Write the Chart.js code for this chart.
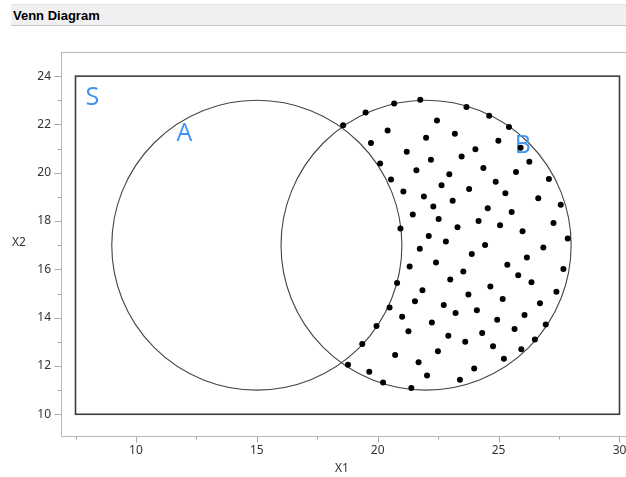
<!DOCTYPE html>
<html>
<head>
<meta charset="utf-8">
<script src="https://cdn.jsdelivr.net/npm/chart.js@4/dist/chart.umd.min.js"></script>
<style>
  html, body { margin: 0; padding: 0; background: #fff; overflow: hidden; width: 626px; height: 477px; }
  #wrap { position: relative; width: 626px; height: 477px; overflow: hidden; }
  #chart { position: absolute; left: 0; top: 0; }
  #title {
    position: absolute; left: 11px; top: 4px; width: 615px; height: 22px;
    background: #f0f0f0; border-top: 1px solid #e2e2e2; border-bottom: 1px solid #c6c6c6;
    font: bold 13px "Liberation Sans", Arial, sans-serif; color: #000;
    line-height: 21px; padding-left: 2px; box-sizing: border-box;
  }
</style>
</head>
<body>
<div id="wrap">
  <canvas id="chart" width="637" height="477"></canvas>
  <div id="title">Venn Diagram</div>
</div>
<script>
// Points shaded in set B but outside set A
const dotX = [
  18.57, 19.50, 20.68, 21.76, 23.67, 22.45, 20.41, 19.72, 22.00, 23.19,
  24.04, 21.20, 23.47, 22.20, 20.10, 21.60, 22.96, 20.55, 22.64, 23.78,
  21.06, 21.91, 23.10, 24.61, 25.43, 24.99, 25.91, 26.27, 24.37, 25.72,
  27.08, 24.88, 25.28, 26.64, 22.30, 21.45, 22.52, 24.17, 20.94, 23.30,
  22.11, 22.82, 21.74, 23.89, 21.32, 22.41, 23.54, 23.00, 20.80, 21.85,
  23.75, 21.54, 22.73, 27.57, 24.55, 25.54, 25.06, 27.27, 25.99, 27.86,
  24.44, 26.85, 26.17, 25.36, 27.68, 25.81, 26.36, 24.66, 27.39, 25.17,
  26.71, 20.49, 21.01, 23.22, 24.10, 22.24, 19.95, 21.27, 22.92, 23.62,
  19.36, 22.49, 20.72, 21.69, 18.77, 23.99, 19.65, 22.04, 20.22, 23.40,
  21.39, 24.94, 26.07, 26.95, 24.32, 25.66, 24.77, 26.50, 25.94, 25.22
];
const dotY = [
  21.97, 22.49, 22.87, 23.02, 22.72, 22.16, 21.75, 21.23, 21.45, 21.62,
  20.97, 20.87, 20.67, 20.54, 20.38, 20.10, 19.94, 19.72, 19.48, 19.33,
  19.22, 19.02, 18.84, 22.36, 21.89, 21.33, 21.04, 20.46, 20.20, 20.03,
  19.74, 19.63, 19.15, 18.94, 18.60, 18.27, 18.09, 18.00, 17.69, 17.74,
  17.38, 17.15, 16.85, 16.64, 16.12, 16.28, 15.91, 15.58, 15.44, 15.13,
  14.96, 14.68, 14.52, 18.68, 18.53, 18.38, 17.83, 17.92, 17.58, 17.28,
  17.01, 16.90, 16.49, 16.19, 16.01, 15.76, 15.47, 15.29, 15.07, 14.77,
  14.60, 14.42, 14.04, 14.19, 14.31, 13.80, 13.65, 13.44, 13.25, 13.00,
  12.91, 12.61, 12.45, 12.15, 12.05, 11.89, 11.76, 11.61, 11.32, 11.43,
  11.09, 13.91, 14.11, 13.72, 13.37, 13.53, 12.82, 13.10, 12.69, 12.30
];

// Sets A and B as circles: centre and radius in data units
const setNames = ['A', 'B'];
const setCenterX = [15, 22];
const setCenterY = [17, 17];
const setRadius = [6, 6];

// Universe S as a rectangle [min, max] on each axis
const universeX = [7.5, 30];
const universeY = [10, 24];

// Region letters and where they sit
const regionNames = ['S', 'A', 'B'];
const regionX = [8.2, 12.0, 26.0];
const regionY = [23.1, 21.6, 21.1];

// Axis ticks
const xTickValues = [7.5, 10, 12.5, 15, 17.5, 20, 22.5, 25, 27.5, 30];
const xTickLabels = ['', '10', '', '15', '', '20', '', '25', '', '30'];
const yTickValues = [10, 11, 12, 13, 14, 15, 16, 17, 18, 19, 20, 21, 22, 23, 24];
const yTickLabels = ['10', '', '12', '', '14', '', '16', '', '18', '', '20', '', '22', '', '24'];

const tickFont = { family: '"Noto Sans", "Open Sans", sans-serif', size: 12 };
const tickColor = '#333333';

const dots = dotX.map((x, i) => ({ x: x, y: dotY[i] }));

const vennShapes = {
  id: 'vennShapes',
  beforeDatasetsDraw(chart) {
    const { ctx, chartArea, scales: { x, y } } = chart;
    ctx.save();
    ctx.beginPath();
    ctx.rect(chartArea.left, chartArea.top, chartArea.right - chartArea.left, chartArea.bottom - chartArea.top);
    ctx.clip();

    // universe rectangle
    const rx0 = x.getPixelForValue(universeX[0]);
    const rx1 = x.getPixelForValue(universeX[1]);
    const ry0 = y.getPixelForValue(universeY[1]);
    const ry1 = y.getPixelForValue(universeY[0]);
    ctx.strokeStyle = '#3c3c3c';
    ctx.lineWidth = 1.6;
    ctx.strokeRect(rx0, ry0, rx1 - rx0, ry1 - ry0);

    // set circles
    ctx.strokeStyle = '#444444';
    ctx.lineWidth = 1.1;
    setNames.forEach((name, i) => {
      const cx = x.getPixelForValue(setCenterX[i]);
      const cy = y.getPixelForValue(setCenterY[i]);
      const rxp = Math.abs(x.getPixelForValue(setCenterX[i] + setRadius[i]) - cx);
      const ryp = Math.abs(y.getPixelForValue(setCenterY[i] + setRadius[i]) - cy);
      ctx.beginPath();
      ctx.ellipse(cx, cy, rxp, ryp, 0, 0, Math.PI * 2);
      ctx.stroke();
    });

    // region letters
    ctx.fillStyle = '#3f93f0';
    ctx.font = '25px "Open Sans", "Noto Sans", sans-serif';
    ctx.textAlign = 'center';
    ctx.textBaseline = 'middle';
    regionNames.forEach((t, i) => {
      ctx.fillText(t, x.getPixelForValue(regionX[i]), y.getPixelForValue(regionY[i]));
    });
    ctx.restore();
  },
  afterDraw(chart) {
    const { ctx, chartArea, scales: { x, y } } = chart;
    ctx.save();
    // frame of the plot
    ctx.strokeStyle = '#b8b8b8';
    ctx.lineWidth = 1;
    const l = Math.round(chartArea.left) + 0.5;
    const t = Math.round(chartArea.top) + 0.5;
    const b = Math.round(chartArea.bottom) + 0.5;
    const r = Math.round(chartArea.right) - 0.5;
    ctx.strokeRect(l, t, r - l, b - t);

    // tick marks, longer for labelled ticks
    ctx.strokeStyle = '#a8a8a8';
    ctx.beginPath();
    x.ticks.forEach((tk) => {
      const px = Math.round(x.getPixelForValue(tk.value)) + 0.5;
      const len = tk.label ? 6 : 3;
      ctx.moveTo(px, b);
      ctx.lineTo(px, b + len);
    });
    y.ticks.forEach((tk) => {
      const py = Math.round(y.getPixelForValue(tk.value)) + 0.5;
      const len = tk.label ? 7 : 4;
      ctx.moveTo(l, py);
      ctx.lineTo(l - len, py);
    });
    ctx.stroke();

    // axis titles
    ctx.fillStyle = tickColor;
    ctx.font = '12px "Noto Sans", "Open Sans", sans-serif';
    ctx.textAlign = 'center';
    ctx.textBaseline = 'middle';
    ctx.fillText('X1', 342, 469);
    ctx.fillText('X2', 19, 243);
    ctx.restore();
  }
};

new Chart(document.getElementById('chart'), {
  type: 'scatter',
  data: {
    datasets: [{
      label: 'B only',
      data: dots,
      pointRadius: 3,
      pointHoverRadius: 3,
      backgroundColor: '#000',
      borderWidth: 0
    }]
  },
  options: {
    responsive: false,
    animation: false,
    devicePixelRatio: 1,
    layout: { padding: { top: 52, left: 0, right: 0, bottom: 0 } },
    plugins: { legend: { display: false }, tooltip: { enabled: false }, title: { display: false } },
    scales: {
      x: {
        type: 'linear',
        min: 6.9,
        max: 30.6,
        afterFit(scale) { scale.height = 41; },
        afterBuildTicks(scale) { scale.ticks = xTickValues.map(v => ({ value: v })); },
        ticks: {
          callback(value) { const i = xTickValues.indexOf(value); return i >= 0 ? xTickLabels[i] : ''; },
          font: tickFont, color: tickColor, padding: 7, maxRotation: 0, autoSkip: false
        },
        grid: { drawOnChartArea: false, drawTicks: false },
        border: { display: false }
      },
      y: {
        type: 'linear',
        min: 9.1,
        max: 25,
        afterFit(scale) { scale.width = 61; },
        afterBuildTicks(scale) { scale.ticks = yTickValues.map(v => ({ value: v })); },
        ticks: {
          callback(value) { const i = yTickValues.indexOf(value); return i >= 0 ? yTickLabels[i] : ''; },
          font: tickFont, color: tickColor, padding: 10, autoSkip: false
        },
        grid: { drawOnChartArea: false, drawTicks: false },
        border: { display: false }
      }
    }
  },
  plugins: [vennShapes]
});
</script>
</body>
</html>
